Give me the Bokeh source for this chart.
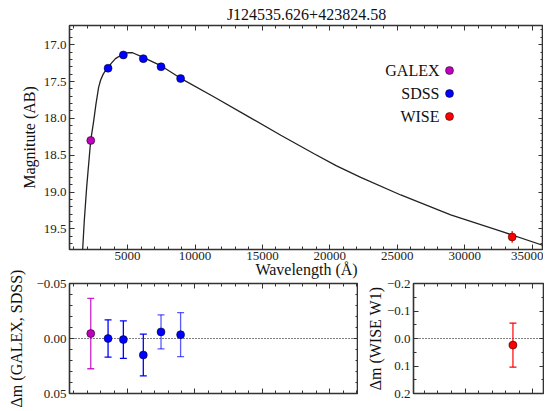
from bokeh.plotting import figure
from bokeh.models import (Range1d, SingleIntervalTicker, LinearAxis, Whisker, TeeHead,
                          ColumnDataSource, Span, Legend, LegendItem, CustomJSTickFormatter, Label)
from bokeh.layouts import column, row
from bokeh.embed import file_html
from bokeh.resources import INLINE

# ---------------- data ----------------
title_text = "J124535.626+423824.58"
xlabel_text = "Wavelength (Å)"
legend_labels = ["GALEX", "SDSS", "WISE"]

galex_wl = [2267]
galex_mag = [18.30]
galex_err = [0.032]
galex_dm = [-0.0045]

sdss_wl = [3551, 4686, 6166, 7480, 8932]
sdss_mag = [17.32, 17.14, 17.19, 17.30, 17.46]
sdss_err = [0.017, 0.017, 0.019, 0.0155, 0.020]
sdss_dm = [0.000, 0.001, 0.015, -0.006, -0.0035]

wise_wl = [33526]
wise_mag = [19.61]
wise_err = [0.08]
wise_dm = [0.024]

model_wl = [1660, 1783, 1961, 2257, 2480, 2650, 2850, 3000, 3191, 3370, 3562, 3800,
            4100, 4629, 5000, 5371, 6112, 7417, 8877, 11420, 13895, 16364, 18833,
            20500, 22294, 25260, 28966, 32673, 35900]
model_mag = [19.80, 19.40, 18.94, 18.31, 18.04, 17.81, 17.58, 17.48, 17.40, 17.35,
             17.31, 17.25, 17.19, 17.13, 17.11, 17.11, 17.17, 17.28, 17.45, 17.71,
             17.97, 18.23, 18.48, 18.645, 18.80, 19.04, 19.31, 19.53, 19.73]

# ---------------- style ----------------
SERIF = "Liberation Serif"
C_GALEX = "#bf00bf"
C_SDSS = "#0000ff"
C_WISE = "#ff0000"
FRAME = "#333333"
TXT = "#111111"


def style_axis(ax, show_labels=True):
    ax.major_tick_in = 5
    ax.major_tick_out = 0
    ax.minor_tick_in = 3
    ax.minor_tick_out = 0
    ax.axis_line_color = None
    ax.major_tick_line_color = FRAME
    ax.minor_tick_line_color = FRAME
    ax.major_tick_line_width = 1
    ax.minor_tick_line_width = 1
    ax.major_label_text_font = SERIF
    ax.axis_label_text_font = SERIF
    ax.axis_label_text_font_style = "normal"
    ax.axis_label_text_font_size = "16px"
    ax.axis_label_text_color = TXT
    if show_labels:
        ax.major_label_text_font_size = "13px"
        ax.major_label_text_color = "#222222"
        ax.major_label_standoff = 3
    else:
        ax.major_label_text_font_size = "0px"
        ax.major_label_text_color = None
        ax.major_label_standoff = 0


def fmt(decimals):
    return CustomJSTickFormatter(code="""
        var v = Math.abs(tick) < 1e-9 ? 0 : tick;
        return v.toFixed(%d).replace('-', '\\u2212');
    """ % decimals)


def make_fig(width, height, xr, yr, xticker, yticker, xlabels, yfmt, **borders):
    f = figure(width=width, height=height, output_backend="svg", toolbar_location=None,
               x_range=Range1d(*xr), y_range=Range1d(*yr), x_axis_type=None,
               y_axis_type=None, **borders)
    bottom = LinearAxis(ticker=xticker)
    left = LinearAxis(ticker=yticker, formatter=yfmt)
    top = LinearAxis(ticker=xticker)
    right = LinearAxis(ticker=yticker)
    style_axis(bottom, xlabels)
    style_axis(left, True)
    style_axis(top, False)
    style_axis(right, False)
    f.add_layout(bottom, "below")
    f.add_layout(left, "left")
    f.add_layout(top, "above")
    f.add_layout(right, "right")
    f.outline_line_color = FRAME
    f.outline_line_width = 1.6
    f.grid.visible = False
    f.background_fill_color = "white"
    f.border_fill_color = "white"
    return f, bottom, left


# ---------------- top panel ----------------
TOP_BELOW = 41
p, p_bottom, p_left = make_fig(
    543, 249 + TOP_BELOW, (690, 35850), (19.78, 16.74),
    SingleIntervalTicker(interval=5000, num_minor_ticks=5),
    SingleIntervalTicker(interval=0.5, num_minor_ticks=5), True, fmt(1),
    min_border_left=69, min_border_right=0, min_border_top=25, min_border_bottom=TOP_BELOW)
p.title.text = title_text
p.title.align = "center"
p.title.text_font = SERIF
p.title.text_font_size = "16px"
p.title.text_font_style = "normal"
p.title.text_color = TXT
p.title.standoff = 6
p_left.axis_label = "Magnitute (AB)"
p_left.axis_label_standoff = 3
p_bottom.axis_label = xlabel_text
p_bottom.major_label_standoff = 2
p_bottom.axis_label_standoff = -2

p.line(model_wl, model_mag, line_color="#222222", line_width=1.3)

for wl, mag, err, col in [(galex_wl, galex_mag, galex_err, C_GALEX),
                          (sdss_wl, sdss_mag, sdss_err, C_SDSS),
                          (wise_wl, wise_mag, wise_err, C_WISE)]:
    p.segment(x0=wl, x1=wl, y0=[m - e for m, e in zip(mag, err)],
              y1=[m + e for m, e in zip(mag, err)], line_color=col, line_width=1.2)

r_g = p.scatter(galex_wl, galex_mag, size=8, fill_color=C_GALEX, line_color="black", line_width=0.5)
r_s = p.scatter(sdss_wl, sdss_mag, size=8, fill_color=C_SDSS, line_color="black", line_width=0.5)
r_w = p.scatter(wise_wl, wise_mag, size=8, fill_color=C_WISE, line_color="black", line_width=0.5)

# legend: markers to the right of the labels (glyph-only legend + right-aligned labels)
LEG_X, ROW0, LEG_ROW = 370, 179, 23
legend = Legend(items=[LegendItem(label=" ", renderers=[r]) for r in (r_g, r_s, r_w)],
                location=(LEG_X, ROW0 - 10 - 2 * LEG_ROW), border_line_color=None,
                background_fill_alpha=0, padding=0, margin=0, spacing=3, label_height=20,
                glyph_height=20, glyph_width=20, label_standoff=0, label_width=0,
                label_text_font_size="1px", label_text_color=None)
p.add_layout(legend)
for i, txt in enumerate(legend_labels):
    p.add_layout(Label(x=LEG_X, y=ROW0 - i * LEG_ROW, x_units="screen",
                       y_units="screen", text=txt, text_align="right", text_baseline="middle",
                       text_font=SERIF, text_font_size="16px", text_color=TXT))

# ---------------- bottom-left panel ----------------
res_wl = galex_wl + sdss_wl
res_dm = galex_dm + sdss_dm
res_err = galex_err + sdss_err
res_color = [C_GALEX] + [C_SDSS] * len(sdss_wl)
res_alpha = [0.85, 1.0, 1.0, 1.0, 0.65, 0.65]

OVERLAP_TOP = 20                      # bottom canvases start 20 px above their frames
ROW_SHIFT = (249 + TOP_BELOW) - (283 - OVERLAP_TOP)
BOT_H = OVERLAP_TOP + 110 + 18

bl, bl_bottom, bl_left = make_fig(
    358, BOT_H, (690, 22130), (0.05, -0.05),
    SingleIntervalTicker(interval=5000, num_minor_ticks=5),
    SingleIntervalTicker(interval=0.05, num_minor_ticks=5), False, fmt(2),
    min_border_left=69, min_border_right=0, min_border_top=OVERLAP_TOP, min_border_bottom=18)
bl.border_fill_color = None
bl_left.axis_label = "Δm (GALEX, SDSS)"
bl_left.axis_label_standoff = 8
bl.add_layout(Span(location=0, dimension="width", line_color="black", line_dash="1 2",
                   line_width=1.2, level="underlay"))

src_l = ColumnDataSource(dict(x=res_wl, y=res_dm,
                              upper=[d + e for d, e in zip(res_dm, res_err)],
                              lower=[d - e for d, e in zip(res_dm, res_err)],
                              color=res_color, alpha=res_alpha))
wl_ = Whisker(base="x", upper="upper", lower="lower", source=src_l, dimension="height",
              line_color="color", line_alpha="alpha", line_width=1.3, level="underlay",
              upper_head=TeeHead(size=7, line_color="color", line_alpha="alpha", line_width=1.3),
              lower_head=TeeHead(size=7, line_color="color", line_alpha="alpha", line_width=1.3))
bl.add_layout(wl_)
bl.scatter("x", "y", source=src_l, size=8, fill_color="color", line_color="black", line_width=0.5)

# ---------------- bottom-right panel ----------------
br, br_bottom, br_left = make_fig(
    186, BOT_H, (26200, 35850), (0.2, -0.2),
    SingleIntervalTicker(interval=5000, num_minor_ticks=5),
    SingleIntervalTicker(interval=0.1, num_minor_ticks=2), False, fmt(1),
    min_border_left=55, min_border_right=0, min_border_top=OVERLAP_TOP, min_border_bottom=18)
br.border_fill_color = None
br_left.axis_label = "Δm (WISE W1)"
br_left.axis_label_standoff = 0
br.add_layout(Span(location=0, dimension="width", line_color="black", line_dash="1 2",
                   line_width=1.2, level="underlay"))
src_r = ColumnDataSource(dict(x=wise_wl, y=wise_dm,
                              upper=[d + e for d, e in zip(wise_dm, wise_err)],
                              lower=[d - e for d, e in zip(wise_dm, wise_err)]))
wr = Whisker(base="x", upper="upper", lower="lower", source=src_r, dimension="height",
             line_color=C_WISE, line_width=1.2, level="underlay",
             upper_head=TeeHead(size=7, line_color=C_WISE, line_width=1.2),
             lower_head=TeeHead(size=7, line_color=C_WISE, line_width=1.2))
br.add_layout(wr)
br.scatter("x", "y", source=src_r, size=8, fill_color=C_WISE, line_color="black", line_width=0.5)

bottom_row = row(bl, br, spacing=0, margin=(-ROW_SHIFT, 0, 0, 0))
layout = column(p, bottom_row, spacing=0)
open("out.html", "w").write(file_html(layout, INLINE))
